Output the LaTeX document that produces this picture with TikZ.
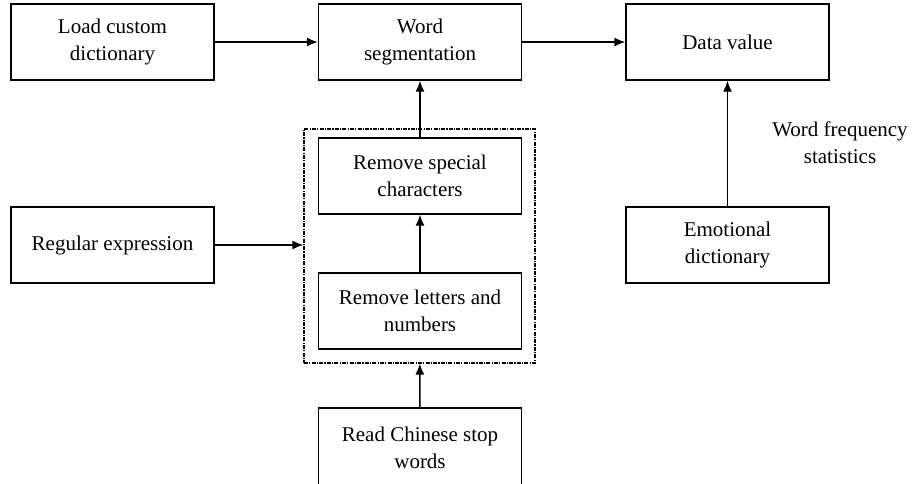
\documentclass[tikz,border=0pt]{standalone}
\usepackage{fontspec}
\setmainfont{Liberation Serif}
\usetikzlibrary{positioning, arrows.meta}
\tikzset{
    every picture/.style={x=0.5pt, y=-0.5pt}, % pixel grid of the reference
    box/.style={draw, line width=0.7pt, minimum width=101.5pt, minimum height=38pt, align=center, font=\fontsize{10.5}{13.5}\selectfont}, % the plain boxes
    dashbox/.style={draw, line width=0.6pt, dash pattern=on 2pt off 0.6pt on 0.6pt off 0.6pt, minimum width=115.5pt, minimum height=117pt}, % the group round the two cleaning steps
    flow/.style={-{Latex[length=5.5pt, width=4.5pt]}, line width=0.7pt}, % makes the arrow heads filled
}
\begin{document}
\begin{tikzpicture}
                  \useasboundingbox (0,0) rectangle (914,483);
                  \node[box] (load) at (112.5,42) {Load custom\\dictionary};
                  \node[box] (seg) at (420,42) {Word\\segmentation};
                  \node[box] (data) at (727.5,42) {Data value};
                  \node[box] (regex) at (112.5,245) {Regular expression};
                  \node[dashbox] (prep) at (419.5,246) {};
                  \node[box] (special) at (420,176) {Remove special\\characters};
                  \node[box] (letters) at (420,311) {Remove letters and\\numbers};
                  \node[box, minimum height=40pt] (stop) at (420,448) {Read Chinese stop\\words};
                  \node[box] (emo) at (727.5,245) {Emotional\\dictionary};
                  \node[align=center, font=\fontsize{10.5}{13.5}\selectfont] (wfs) at (840,143) {Word frequency\\statistics};
                  \draw[flow] (load) -- (seg);
                  \draw[flow] (seg) -- (data);
                  \draw[flow] (special) -- (seg);
                  \draw[flow] (letters) -- (special);
                  \draw[flow] (regex) -- (regex -| prep.west);
                  \draw[flow] (stop) -- (prep);
                  \draw[flow] (emo) -- (data);
              \end{tikzpicture}
\end{document}
